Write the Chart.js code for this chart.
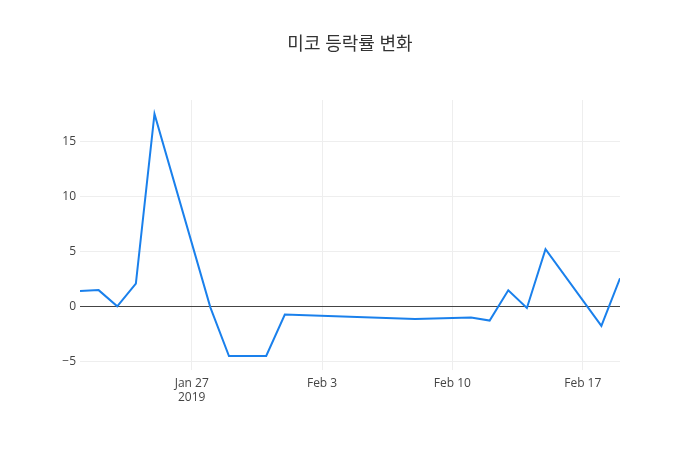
<!DOCTYPE html>
<html>
<head>
<meta charset="utf-8">
<script src="https://cdn.jsdelivr.net/npm/chart.js@4"></script>
<style>
  html, body { margin: 0; padding: 0; background: #fff; }
  #wrap { width: 700px; height: 450px; }
</style>
</head>
<body>
<div id="wrap"><canvas id="chart" width="700" height="450"></canvas></div>
<script>
// 데이터
const dates = [
  "2019-01-21", "2019-01-22", "2019-01-23", "2019-01-24", "2019-01-25",
  "2019-01-28", "2019-01-29", "2019-01-31", "2019-02-01", "2019-02-08",
  "2019-02-11", "2019-02-12", "2019-02-13", "2019-02-14", "2019-02-15",
  "2019-02-18", "2019-02-19"
];
const changes = [
  1.38, 1.47, 0.0, 2.07, 17.48,
  -0.1, -4.52, -4.52, -0.75, -1.15,
  -1.02, -1.3, 1.45, -0.15, 5.2,
  -1.78, 2.55
];
const xTickDates = ["2019-01-27", "2019-02-03", "2019-02-10", "2019-02-17"];
const yTicks = [-5, 0, 5, 10, 15];
const title = "미코 등락률 변화";

const DAY = 86400000;
const toDay = (s) => Date.parse(s + "T00:00:00Z") / DAY;
const months = ["Jan", "Feb", "Mar", "Apr", "May", "Jun", "Jul", "Aug", "Sep", "Oct", "Nov", "Dec"];

const points = dates.map((d, i) => ({ x: toDay(d), y: changes[i] }));

// margen del eje y como en plotly
const yMin = Math.min(...changes), yMax = Math.max(...changes);
const pad = (yMax - yMin) * 0.0577;

const fontFamily = "'Open Sans', 'Noto Sans CJK KR', sans-serif";

const chart = new Chart(document.getElementById("chart").getContext("2d"), {
  type: "line",
  data: {
    datasets: [{
      data: points,
      borderColor: "#1a80ec",
      borderWidth: 2,
      pointRadius: 0,
      tension: 0,
      fill: false,
    }],
  },
  options: {
    responsive: false,
    animation: false,
    layout: { padding: 0 },
    plugins: {
      legend: { display: false },
      tooltip: { enabled: false },
      title: {
        display: true,
        text: title,
        color: "#333",
        font: { family: fontFamily, size: 18, weight: "normal" },
        padding: { top: 34, bottom: 44.4 },
      },
    },
    scales: {
      x: {
        type: "linear",
        min: toDay(dates[0]),
        max: toDay(dates[dates.length - 1]),
        afterBuildTicks: (s) => { s.ticks = xTickDates.map((d) => ({ value: toDay(d) })); },
        afterFit: (s) => { s.height = 80; },
        grid: { color: "#eee", drawTicks: false },
        border: { display: false },
        ticks: {
          color: "#444",
          padding: 6,
          maxRotation: 0,
          font: { family: fontFamily, size: 12 },
          callback: (v, i) => {
            const d = new Date(v * DAY);
            const lbl = months[d.getUTCMonth()] + " " + d.getUTCDate();
            return i === 0 ? [lbl, String(d.getUTCFullYear())] : lbl;
          },
        },
      },
      y: {
        min: yMin - pad,
        max: yMax + pad,
        afterBuildTicks: (s) => { s.ticks = yTicks.map((v) => ({ value: v })); },
        afterFit: (s) => { s.width = 80; },
        grid: {
          drawTicks: false,
          color: (ctx) => (ctx.tick && ctx.tick.value === 0 ? "#444" : "#eee"),
        },
        border: { display: false },
        ticks: {
          color: "#444",
          padding: 4,
          font: { family: fontFamily, size: 12 },
          callback: (v) => (v < 0 ? "\u2212" + Math.abs(v) : String(v)),
        },
      },
      // eje vacío a la derecha, solo para el margen
      yRight: {
        position: "right",
        afterFit: (s) => { s.width = 80; },
        grid: { display: false },
        border: { display: false },
        ticks: { display: false },
      },
    },
  },
});
</script>
</body>
</html>
